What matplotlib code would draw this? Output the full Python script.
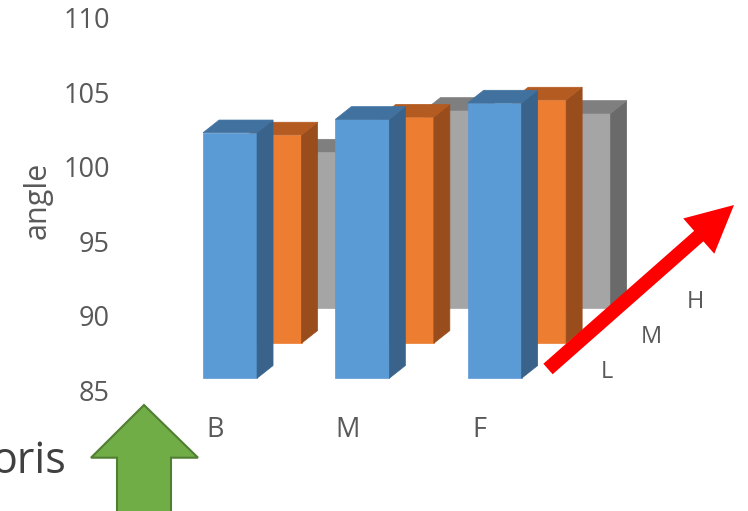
import matplotlib.pyplot as plt
from matplotlib.patches import Polygon, FancyArrow

plt.rcParams['font.family'] = ['Open Sans', 'DejaVu Sans']

categories = ['B', 'M', 'F']
depth_labels = ['L', 'M', 'H']
angle_L = [101.5, 102.4, 103.5]
angle_M = [99.0, 100.2, 101.35]
angle_H = [95.5, 98.3, 98.1]
y_ticks = [85, 90, 95, 100, 105, 110]

# front, side, top shades for each depth row
row_colors = [
    ('#5B9BD5', '#39638A', '#41729F'),
    ('#ED7D31', '#9A4D1C', '#B45B21'),
    ('#A5A5A5', '#6A6A6A', '#7F7F7F'),
]

# oblique projection settings (x in category units, y in angle units)
x_start = 0.59
bar_w = 0.408
bar_dx, bar_dy = 0.121, 0.853
row_dx, row_dy = 0.3364, 2.352
floor = 85.79
txt_col = '#595959'


def draw_bar(ax, x, base, height, colors):
    top = base + height
    front = [(x, base), (x + bar_w, base), (x + bar_w, top), (x, top)]
    side = [(x + bar_w, base), (x + bar_w + bar_dx, base + bar_dy),
            (x + bar_w + bar_dx, top + bar_dy), (x + bar_w, top)]
    lid = [(x, top), (x + bar_w, top), (x + bar_w + bar_dx, top + bar_dy),
           (x + bar_dx, top + bar_dy)]
    for pts, c in zip((front, side, lid), colors):
        ax.add_patch(Polygon(pts, closed=True, facecolor=c, edgecolor=c,
                             lw=0.5, clip_on=False))


fig = plt.figure(figsize=(7.48, 5.11), dpi=100)
ax = fig.add_axes([125 / 748, 121 / 511, 623 / 748, 372 / 511])
ax.set_xlim(0, 623 / 132.3)
ax.set_ylim(85, 110)

rows = [angle_L, angle_M, angle_H]
for k in reversed(range(len(rows))):
    base = floor + k * row_dy
    for i, v in enumerate(rows[k]):
        x = x_start + i + k * row_dx
        draw_bar(ax, x, base, v - 85, row_colors[k])

# depth axis labels
for k, lab in enumerate(depth_labels):
    ax.text(x_start + len(categories) + 0.05 + k * row_dx,
            floor + 0.42 + k * row_dy, lab, ha='center', va='center',
            fontsize=17, color=txt_col)

ax.set_yticks(y_ticks)
ax.set_xticks([x_start + 0.09 + i for i in range(len(categories))])
ax.set_xticklabels(categories)
ax.tick_params(axis='both', length=0, labelsize=19.5, labelcolor=txt_col)
ax.tick_params(axis='y', pad=11)
ax.tick_params(axis='x', pad=19)
for s in ax.spines.values():
    s.set_visible(False)
ax.set_ylabel('angle', fontsize=22, color=txt_col, va='center')
ax.yaxis.set_label_coords(-0.141, 0.511)

# overlay in pixel units for the arrows and side text
ov = fig.add_axes([0, 0, 1, 1], zorder=5)
ov.set_xlim(0, 748)
ov.set_ylim(511, 0)
ov.axis('off')
ov.patch.set_alpha(0)

ov.add_patch(FancyArrow(548, 369, 186, -164, width=14, head_width=47,
                        head_length=47, length_includes_head=True,
                        color='#FF0000', lw=0))
ov.add_patch(Polygon([(144, 405), (91, 457.7), (117, 457.7), (117, 515),
                      (171, 515), (171, 457.7), (198, 457.7)], closed=True,
                     facecolor='#70AD47', edgecolor='#507E32', lw=1.5))
ov.text(66, 473, 'oris', ha='right', va='baseline', fontsize=31,
        color='#404040')

fig.savefig('out.png', dpi=100)
